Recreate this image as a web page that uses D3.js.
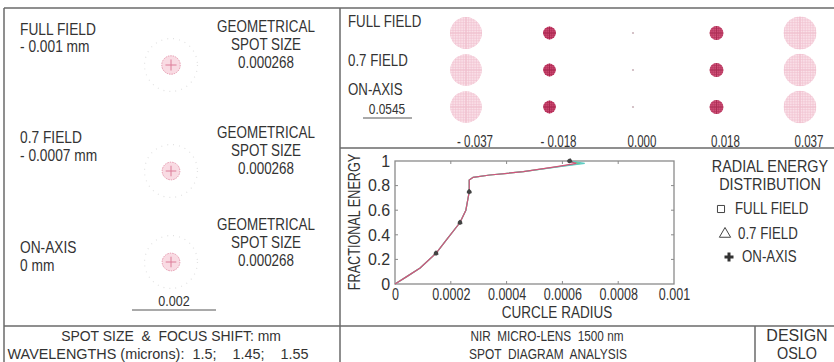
<!DOCTYPE html>
<html><head><meta charset="utf-8">
<script src="https://cdn.jsdelivr.net/npm/d3@7/dist/d3.min.js"></script>
<style>
html,body{margin:0;padding:0;background:#fff;}
svg{display:block;}
text{font-family:"Liberation Sans",Arial,sans-serif;fill:#333;}
</style></head>
<body>
<svg id="c" width="834" height="362"></svg>
<script>
// ---------- DATA ----------
const fieldNames = ["FULL FIELD", "0.7 FIELD", "ON-AXIS"];
const fieldHeights = ["- 0.001 mm", "- 0.0007 mm", "0 mm"];
const geoSpotSize = [0.000268, 0.000268, 0.000268];
const spotRadiusMm = [0.00022, 0.00021, 0.00021];      // drawn spot radius (mm)
const airyRadiusMm = [0.00063, 0.00063, 0.00063];      // faint reference ring (mm)
const leftScaleBar = 0.002;

const focusShifts = [-0.037, -0.018, 0.000, 0.018, 0.037];
const focusLabels = ["- 0.037", "- 0.018", "0.000", "0.018", "0.037"];
const throughFocusRadius = [          // blur radius (mm) per field row, per focus shift
  [0.0178, 0.0072, 0.0006, 0.0078, 0.0183],
  [0.0176, 0.0071, 0.0006, 0.0078, 0.0182],
  [0.0176, 0.0071, 0.0006, 0.0078, 0.0182]
];
const rightScaleBar = 0.0545;

const energyLevels = [0, 0.06, 0.13, 0.25, 0.36, 0.5, 0.6, 0.75, 0.845, 0.867, 0.886, 0.913, 0.954, 0.98, 1.0];
const radiusFullField = [0, 0.000042, 0.00009, 0.000147, 0.000185, 0.000233, 0.000254, 0.000266, 0.000266, 0.00028, 0.00034, 0.00046, 0.000585, 0.000665, 0.000626];
const radius07Field   = [0, 0.000042, 0.00009, 0.000147, 0.000185, 0.000233, 0.000254, 0.000266, 0.000266, 0.00028, 0.00034, 0.00046, 0.00059, 0.00068, 0.000628];
const radiusOnAxis    = [0, 0.000042, 0.00009, 0.000147, 0.000185, 0.000233, 0.000254, 0.000266, 0.000266, 0.00028, 0.00034, 0.00046, 0.00058, 0.00065, 0.000625];
const markerLevels = [0.25, 0.5, 0.75, 1.0];
const xTicks = [0, 0.0002, 0.0004, 0.0006, 0.0008, 0.001];
const yTicks = [0, 0.2, 0.4, 0.6, 0.8, 1];
const legendItems = ["FULL FIELD", "0.7 FIELD", "ON-AXIS"];

// ---------- DRAW ----------
const svg = d3.select("#c");
const lineCol = "#6a6a6a";

const frame = svg.append("g").attr("stroke", lineCol).attr("stroke-width", 1.5);
frame.append("line").attr("x1", 4).attr("y1", 8).attr("x2", 834).attr("y2", 8);
frame.append("line").attr("x1", 4).attr("y1", 8).attr("x2", 4).attr("y2", 362);
frame.append("line").attr("x1", 340).attr("y1", 8).attr("x2", 340).attr("y2", 362);
frame.append("line").attr("x1", 340).attr("y1", 148).attr("x2", 834).attr("y2", 148);
frame.append("line").attr("x1", 4).attr("y1", 326).attr("x2", 834).attr("y2", 326);
frame.append("line").attr("x1", 755).attr("y1", 326).attr("x2", 755).attr("y2", 362);

// narrow text helper: horizontal compression to mimic the condensed plot font
function txt(g, x, y, s, anchor, size, k) {
  return g.append("text").attr("transform", `translate(${x},${y}) scale(${k || 0.85},1)`)
    .attr("text-anchor", anchor || "start").attr("font-size", size || 16).text(s);
}

// ---------- LEFT PANEL ----------
const left = svg.append("g");
const leftSpotY = d3.scaleOrdinal().domain(fieldNames).range([65, 171, 262]);
const leftScale = d3.scaleLinear().domain([0, leftScaleBar]).range([0, 84]);
const leftLabelY = [[35, 52], [143, 161], [253, 271]];
const leftGeoY = [32, 138, 230];
fieldNames.forEach((f, i) => {
  txt(left, 20, leftLabelY[i][0], f, "start", 16, 0.86);
  txt(left, 20, leftLabelY[i][1], fieldHeights[i], "start", 16, 0.86);
  txt(left, 266, leftGeoY[i], "GEOMETRICAL", "middle", 16, 0.84);
  txt(left, 266, leftGeoY[i] + 18, "SPOT SIZE", "middle", 16, 0.84);
  txt(left, 266, leftGeoY[i] + 36, geoSpotSize[i].toFixed(6), "middle", 16, 0.84);
  const cx = 171, cy = leftSpotY(f);
  const r = leftScale(spotRadiusMm[i]);
  left.append("circle").attr("cx", cx).attr("cy", cy).attr("r", leftScale(airyRadiusMm[i]))
    .attr("fill", "none").attr("stroke", "#e2e2e2").attr("stroke-width", 1.2).attr("stroke-dasharray", "1 5");
  left.append("circle").attr("cx", cx).attr("cy", cy).attr("r", r)
    .attr("fill", "#f9dbe3").attr("stroke", "#e596ac").attr("stroke-width", 1).attr("stroke-dasharray", "1.5 1");
  left.append("line").attr("x1", cx - r * 0.6).attr("x2", cx + r * 0.6).attr("y1", cy).attr("y2", cy)
    .attr("stroke", "#dc7c98").attr("stroke-width", 1);
  left.append("line").attr("x1", cx).attr("x2", cx).attr("y1", cy - r * 0.6).attr("y2", cy + r * 0.6)
    .attr("stroke", "#dc7c98").attr("stroke-width", 1);
});
txt(left, 174, 306, leftScaleBar.toFixed(3), "middle", 15, 0.84);
left.append("line").attr("x1", 132).attr("x2", 132 + leftScale(leftScaleBar)).attr("y1", 310).attr("y2", 310)
  .attr("stroke", "#555").attr("stroke-width", 1);

// ---------- TOP RIGHT: through-focus spots ----------
const tr = svg.append("g");
const colX = d3.scalePoint().domain(focusShifts).range([466, 800]);
const rowY = d3.scalePoint().domain(fieldNames).range([33, 107]);
const rScale = d3.scaleLinear().domain([0, rightScaleBar]).range([0, 49]);
const defs = svg.append("defs");
const rowLabelY = [27, 66, 95];
fieldNames.forEach((f, i) => txt(tr, 348, rowLabelY[i], f, "start", 16, 0.83));
txt(tr, 387, 114, rightScaleBar.toString(), "middle", 14, 0.85);
tr.append("line").attr("x1", 363).attr("x2", 363 + rScale(rightScaleBar)).attr("y1", 118).attr("y2", 118)
  .attr("stroke", "#555").attr("stroke-width", 1);
focusLabels.forEach((l, j) => txt(tr, colX(focusShifts[j]) + 9, 147, l, "middle", 17, 0.68));

const colInterp = d3.interpolateRgb("#d4507a", "#fae0e8");
fieldNames.forEach((f, i) => {
  focusShifts.forEach((fs, j) => {
    const r = rScale(throughFocusRadius[i][j]);
    const cx = colX(fs), cy = rowY(f);
    if (r < 2) {
      tr.append("circle").attr("cx", cx).attr("cy", cy).attr("r", 1.1).attr("fill", "#cbb4bb");
      return;
    }
    const t = Math.max(0, Math.min(1, (r - 6.5) / 9));
    const id = `clip${i}_${j}`;
    defs.append("clipPath").attr("id", id).append("circle").attr("cx", cx).attr("cy", cy).attr("r", r);
    const g = tr.append("g").attr("clip-path", `url(#${id})`);
    g.append("circle").attr("cx", cx).attr("cy", cy).attr("r", r).attr("fill", colInterp(t));
    const gridCol = d3.interpolateRgb("#a8264e", "#f0c0ce")(t);
    const step = r > 10 ? 2.6 : 2.2;
    const n = Math.ceil(r / step);
    for (let k = -n; k <= n; k++) {
      g.append("line").attr("x1", cx + k * step).attr("x2", cx + k * step).attr("y1", cy - r).attr("y2", cy + r)
        .attr("stroke", gridCol).attr("stroke-width", 0.6);
      g.append("line").attr("y1", cy + k * step).attr("y2", cy + k * step).attr("x1", cx - r).attr("x2", cx + r)
        .attr("stroke", gridCol).attr("stroke-width", 0.6);
    }
    g.append("line").attr("x1", cx - r).attr("x2", cx + r).attr("y1", cy).attr("y2", cy).attr("stroke", gridCol).attr("stroke-width", 1.2);
    g.append("line").attr("x1", cx).attr("x2", cx).attr("y1", cy - r).attr("y2", cy + r).attr("stroke", gridCol).attr("stroke-width", 1.2);
  });
});

// ---------- CHART ----------
const ch = svg.append("g");
const x = d3.scaleLinear().domain([0, 0.001]).range([395, 674]);
const y = d3.scaleLinear().domain([0, 1]).range([284, 161]);
const fmt = d => d === 0 ? "0" : d3.format("~g")(d);

const ax = ch.append("g").attr("transform", `translate(0,${y(0)})`)
  .call(d3.axisBottom(x).tickValues(xTicks).tickFormat(fmt).tickSize(0).tickPadding(4));
ax.select(".domain").remove();
ax.selectAll("text").attr("font-size", 16.5).attr("font-family", null).attr("fill", "#333")
  .attr("transform", "scale(0.76,1)");
const ay = ch.append("g").attr("transform", `translate(${x(0)},0)`)
  .call(d3.axisLeft(y).tickValues(yTicks).tickFormat(fmt).tickSize(0).tickPadding(5));
ay.select(".domain").remove();
ay.selectAll("text").attr("font-size", 16.5).attr("font-family", null).attr("fill", "#333")
  .attr("transform", "scale(0.97,1)");

ch.append("rect").attr("x", x(0)).attr("y", y(1)).attr("width", x(0.001) - x(0)).attr("height", y(0) - y(1))
  .attr("fill", "none").attr("stroke", "#8a8a8a").attr("stroke-width", 1.3);
const tk = ch.append("g").attr("stroke", "#8a8a8a").attr("stroke-width", 1);
xTicks.slice(1, -1).forEach(v => {
  tk.append("line").attr("x1", x(v)).attr("x2", x(v)).attr("y1", y(0)).attr("y2", y(0) - 3);
  tk.append("line").attr("x1", x(v)).attr("x2", x(v)).attr("y1", y(1)).attr("y2", y(1) + 3);
});
yTicks.slice(1, -1).forEach(v => {
  tk.append("line").attr("y1", y(v)).attr("y2", y(v)).attr("x1", x(0)).attr("x2", x(0) + 3);
  tk.append("line").attr("y1", y(v)).attr("y2", y(v)).attr("x1", x(0.001)).attr("x2", x(0.001) - 3);
});

txt(ch, 557, 318, "CURCLE RADIUS", "middle", 16.5, 0.82);
ch.append("text").attr("transform", `translate(360,222) rotate(-90) scale(0.79,1)`).attr("text-anchor", "middle")
  .attr("font-size", 16).text("FRACTIONAL ENERGY");

const seriesList = [
  { name: "FULL FIELD", r: radiusFullField, color: "#7fbf6a", sym: d3.symbolSquare },
  { name: "0.7 FIELD", r: radius07Field, color: "#5ccdc4", sym: d3.symbolTriangle },
  { name: "ON-AXIS", r: radiusOnAxis, color: "#d4527a", sym: d3.symbolCross }
];
const line = d3.line().x(d => x(d[0])).y(d => y(d[1]));
seriesList.forEach(s => {
  const pts = s.r.map((rv, k) => [rv, energyLevels[k]]);
  ch.append("path").attr("d", line(pts)).attr("fill", "none").attr("stroke", s.color).attr("stroke-width", 1.2);
});
seriesList.forEach(s => {
  const pts = s.r.map((rv, k) => [rv, energyLevels[k]]).filter(p => markerLevels.includes(p[1]));
  ch.selectAll(null).data(pts).enter().append("path")
    .attr("d", d3.symbol().type(s.sym).size(9))
    .attr("transform", d => `translate(${x(d[0])},${y(d[1])})`)
    .attr("fill", "#444").attr("stroke", "#444").attr("stroke-width", 0.4);
});

// legend
const lg = svg.append("g");
txt(lg, 770, 172, "RADIAL ENERGY", "middle", 16, 0.9);
txt(lg, 770, 190, "DISTRIBUTION", "middle", 16, 0.9);
const legY = [214, 239, 262];
const legSymX = [721, 725, 729];
const legTxtX = [735, 738, 742];
legendItems.forEach((name, i) => {
  const s = seriesList[i];
  const isCross = s.sym === d3.symbolCross;
  lg.append("path").attr("d", d3.symbol().type(s.sym).size(s.sym === d3.symbolTriangle ? 55 : (isCross ? 45 : 50)))
    .attr("transform", `translate(${legSymX[i]},${legY[i] - 5})`)
    .attr("fill", isCross ? "#333" : "none")
    .attr("stroke", "#444").attr("stroke-width", isCross ? 0 : 1);
  txt(lg, legTxtX[i], legY[i], name, "start", 16, 0.83);
});

// ---------- BOTTOM STRIP ----------
const bt = svg.append("g");
txt(bt, 171, 341, "SPOT SIZE  &  FOCUS SHIFT: mm", "middle", 15.5, 0.9).attr("xml:space", "preserve");
txt(bt, 158, 359, "WAVELENGTHS (microns):  1.5;    1.45;    1.55", "middle", 15.5, 0.93).attr("xml:space", "preserve");
txt(bt, 547, 341, "NIR  MICRO-LENS  1500 nm", "middle", 15.5, 0.76).attr("xml:space", "preserve");
txt(bt, 548, 359, "SPOT  DIAGRAM  ANALYSIS", "middle", 15.5, 0.77).attr("xml:space", "preserve");
txt(bt, 797, 341, "DESIGN", "middle", 16, 1.0);
txt(bt, 797, 359, "OSLO", "middle", 16, 0.9);
</script>
</body></html>
